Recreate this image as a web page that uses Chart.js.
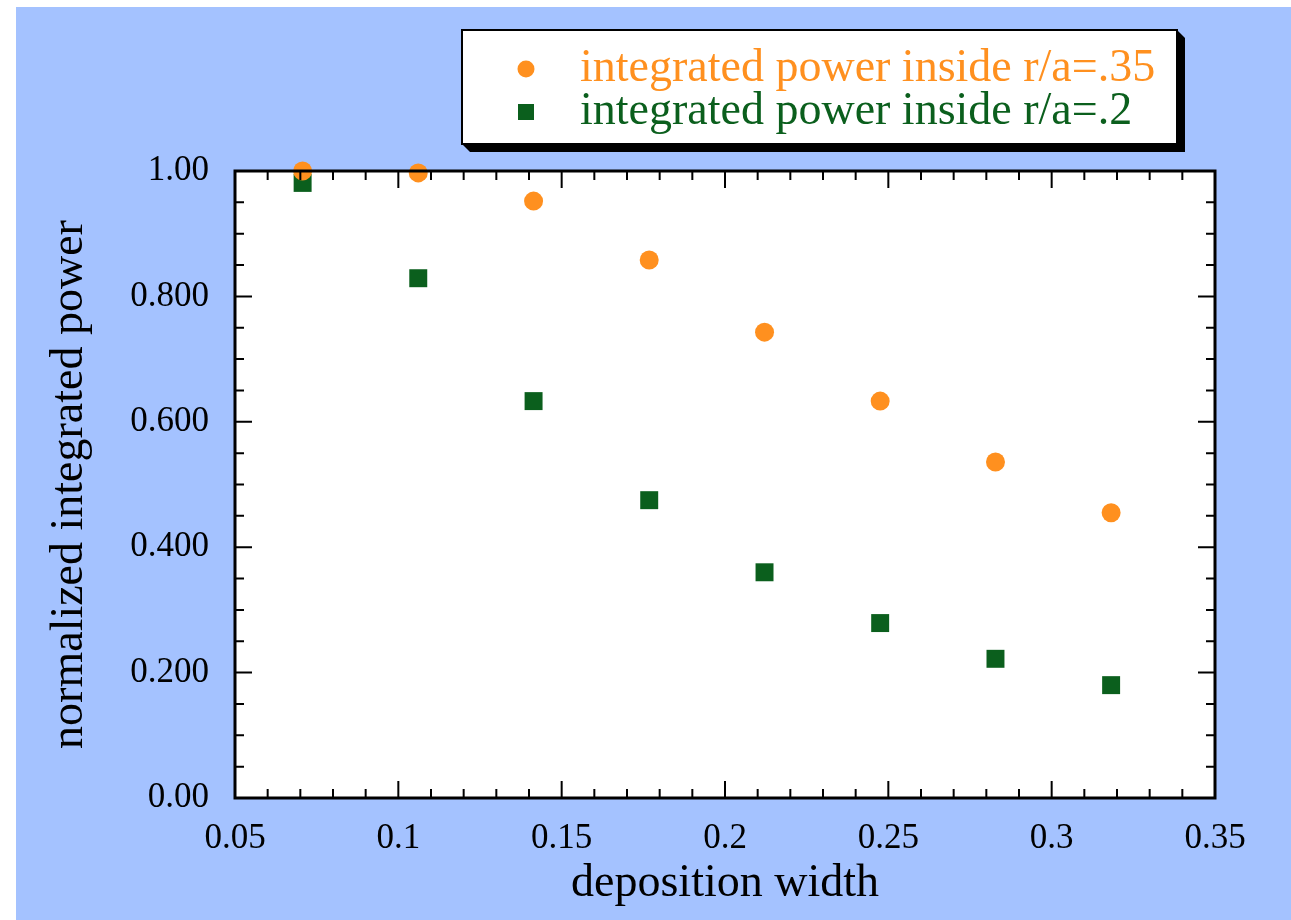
<!DOCTYPE html>
<html><head><meta charset="utf-8">
<script src="https://cdn.jsdelivr.net/npm/chart.js@4/dist/chart.umd.min.js"></script>
<style>html,body{margin:0;padding:0;background:#fff;overflow:hidden}#wrap{width:1291px;height:920px;position:relative}</style>
</head><body><div id="wrap"><canvas id="c" width="1291" height="920"></canvas></div>
<script>
const depositionWidth = [0.0707, 0.1061, 0.1414, 0.1768, 0.2121, 0.2475, 0.2828, 0.3182];
const powerInside035 = [1.000, 0.997, 0.952, 0.858, 0.743, 0.633, 0.536, 0.455];
const powerInside02 = [0.981, 0.829, 0.633, 0.475, 0.360, 0.279, 0.222, 0.180];
const seriesLabels = ['integrated power inside r/a=.35', 'integrated power inside r/a=.2'];
const xTickValues = [0.05, 0.1, 0.15, 0.2, 0.25, 0.3, 0.35];
const xTickLabels = ['0.05', '0.1', '0.15', '0.2', '0.25', '0.3', '0.35'];
const yTickValues = [0, 0.2, 0.4, 0.6, 0.8, 1.0];
const yTickLabels = ['0.00', '0.200', '0.400', '0.600', '0.800', '1.00'];

const SERIF = "'Liberation Serif', 'Times New Roman', serif";
const ORANGE = '#ff901f';
const GREEN = '#0b5f1d';
const BLUE = '#a4c2ff';

function toPoints(xs, ys) { return xs.map((x, i) => ({x: x, y: ys[i]})); }

const decor = {
  id: 'decor',
  beforeDraw(chart) {
    const ctx = chart.ctx, a = chart.chartArea;
    ctx.save();
    ctx.fillStyle = '#ffffff';
    ctx.fillRect(0, 0, chart.width, chart.height);
    ctx.fillStyle = BLUE;
    ctx.fillRect(16, 7, chart.width - 16, chart.height - 7);
    ctx.fillStyle = '#ffffff';
    ctx.fillRect(a.left, a.top, a.right - a.left, a.bottom - a.top);
    ctx.restore();
  },
  afterDatasetsDraw(chart) {
    const ctx = chart.ctx, a = chart.chartArea;
    const xs = chart.scales.x, ys = chart.scales.y;
    ctx.save();
    ctx.strokeStyle = '#000';
    ctx.lineWidth = 2;
    const MAJ = 17, MIN = 9;
    ctx.beginPath();
    for (let i = 0; i < xTickValues.length; i++) {
      const px = xs.getPixelForValue(xTickValues[i]);
      ctx.moveTo(px, a.bottom); ctx.lineTo(px, a.bottom - MAJ);
      ctx.moveTo(px, a.top); ctx.lineTo(px, a.top + MAJ);
      if (i < xTickValues.length - 1) {
        const step = (xTickValues[i + 1] - xTickValues[i]) / 5;
        for (let k = 1; k < 5; k++) {
          const mx = xs.getPixelForValue(xTickValues[i] + k * step);
          ctx.moveTo(mx, a.bottom); ctx.lineTo(mx, a.bottom - MIN);
          ctx.moveTo(mx, a.top); ctx.lineTo(mx, a.top + MIN);
        }
      }
    }
    for (let i = 0; i < yTickValues.length; i++) {
      const py = ys.getPixelForValue(yTickValues[i]);
      ctx.moveTo(a.left, py); ctx.lineTo(a.left + MAJ, py);
      ctx.moveTo(a.right, py); ctx.lineTo(a.right - MAJ, py);
      if (i < yTickValues.length - 1) {
        const step = (yTickValues[i + 1] - yTickValues[i]) / 4;
        for (let k = 1; k < 4; k++) {
          const my = ys.getPixelForValue(yTickValues[i] + k * step);
          ctx.moveTo(a.left, my); ctx.lineTo(a.left + MIN, my);
          ctx.moveTo(a.right, my); ctx.lineTo(a.right - MIN, my);
        }
      }
    }
    ctx.stroke();
    ctx.lineWidth = 3;
    ctx.strokeRect(a.left, a.top, a.right - a.left, a.bottom - a.top);
    ctx.restore();
  },
  afterDraw(chart) {
    const ctx = chart.ctx;
    const L = 462, T = 30, R = 1177, B = 144, S = 8;
    ctx.save();
    ctx.fillStyle = '#000';
    ctx.beginPath();
    ctx.moveTo(R, T); ctx.lineTo(R + S, T + S); ctx.lineTo(R + S, B + S);
    ctx.lineTo(L + S, B + S); ctx.lineTo(L, B); ctx.closePath();
    ctx.fill();
    ctx.fillStyle = '#fff';
    ctx.fillRect(L, T, R - L, B - T);
    ctx.lineWidth = 2;
    ctx.strokeStyle = '#000';
    ctx.strokeRect(L, T, R - L, B - T);
    const ds = chart.data.datasets;
    const rows = [81, 124];
    ctx.font = '46px ' + SERIF;
    ctx.textBaseline = 'alphabetic';
    ctx.textAlign = 'left';
    ds.forEach((d, i) => {
      const cy = rows[i] - 12;
      ctx.fillStyle = d.backgroundColor;
      ctx.beginPath();
      if (d.pointStyle === 'circle') {
        ctx.arc(526, cy, 8.5, 0, Math.PI * 2);
      } else {
        ctx.rect(526 - 8, cy - 8, 16, 16);
      }
      ctx.fill();
      ctx.fillText(d.label, 580, rows[i]);
    });
    ctx.restore();
  }
};

new Chart(document.getElementById('c'), {
  type: 'scatter',
  data: {
    datasets: [
      {label: seriesLabels[0], data: toPoints(depositionWidth, powerInside035), pointStyle: 'circle', pointRadius: 9.5, backgroundColor: ORANGE, borderWidth: 0, clip: false},
      {label: seriesLabels[1], data: toPoints(depositionWidth, powerInside02), pointStyle: 'rect', pointRadius: 12.7, backgroundColor: GREEN, borderWidth: 0, clip: false}
    ]
  },
  options: {
    responsive: false,
    animation: false,
    devicePixelRatio: 1,
    events: [],
    layout: {padding: {top: 171, right: 76, bottom: 0, left: 0}},
    plugins: {legend: {display: false}, tooltip: {enabled: false}},
    scales: {
      x: {
        type: 'linear', position: 'bottom', min: 0.05, max: 0.35,
        afterBuildTicks: s => { s.ticks = xTickValues.map(v => ({value: v})); },
        afterFit: s => { s.height = 122; },
        grid: {display: false}, border: {display: false},
        ticks: {callback: (v, i) => xTickLabels[i], padding: 12, color: '#000', font: {family: SERIF, size: 35}, maxRotation: 0, autoSkip: false},
        title: {display: true, text: 'deposition width', color: '#000', font: {family: SERIF, size: 46}, padding: {top: 0, bottom: 8}}
      },
      y: {
        type: 'linear', position: 'left', min: 0, max: 1,
        afterBuildTicks: s => { s.ticks = yTickValues.map(v => ({value: v})); },
        afterFit: s => { s.width = 235; },
        grid: {display: false}, border: {display: false},
        ticks: {callback: (v, i) => yTickLabels[i], padding: 18, color: '#000', font: {family: SERIF, size: 35}, autoSkip: false},
        title: {display: true, text: 'normalized integrated power', color: '#000', font: {family: SERIF, size: 46}, padding: {top: 42, bottom: 0}}
      }
    }
  },
  plugins: [decor]
});
</script></body></html>
